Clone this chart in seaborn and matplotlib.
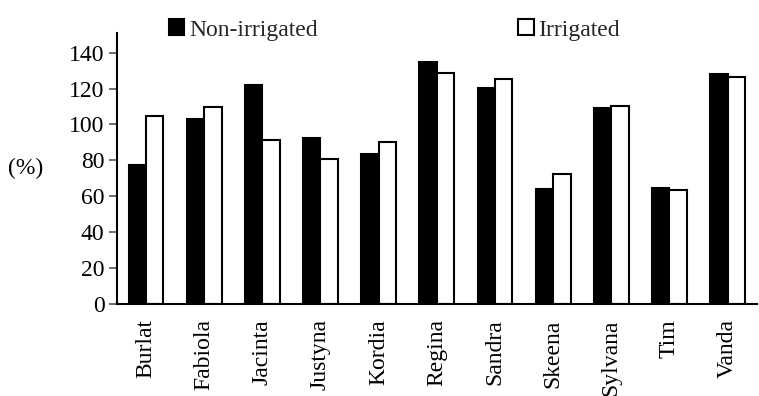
import matplotlib
matplotlib.use("Agg")
import matplotlib.pyplot as plt
import seaborn as sns
import pandas as pd

cultivars = ["Burlat", "Fabiola", "Jacinta", "Justyna", "Kordia", "Regina",
             "Sandra", "Skeena", "Sylvana", "Tim", "Vanda"]
non_irrigated = [77.6, 102.8, 121.8, 92.7, 83.8, 134.6, 120.5, 64.1, 109.3, 64.6, 128.3]
irrigated = [105.0, 109.7, 91.2, 80.6, 90.1, 128.7, 125.1, 72.3, 110.3, 63.3, 126.3]
series = ["Non-irrigated", "Irrigated"]
yticks = [0, 20, 40, 60, 80, 100, 120, 140]

df = pd.DataFrame({
    "cultivar": cultivars * 2,
    "value": non_irrigated + irrigated,
    "treatment": [series[0]] * len(cultivars) + [series[1]] * len(cultivars),
})

sns.set_theme(style="white")
plt.rcParams["font.family"] = ["Liberation Serif", "DejaVu Serif"]

FS = 17
fig = plt.figure(figsize=(7.59, 3.96), dpi=100)
ax = fig.add_axes([0.154, 0.232, 0.843, 0.685])

sns.barplot(data=df, x="cultivar", y="value", hue="treatment",
            palette={"Non-irrigated": "black", "Irrigated": "white"},
            edgecolor="black", linewidth=1.5, width=0.6, ax=ax,
            errorbar=None, legend=True)

ax.set_xlim(-0.5, len(cultivars) - 0.5)
ax.set_ylim(0, 151)
ax.set_yticks(yticks)
ax.tick_params(axis="y", which="both", left=True, length=6, width=1.2,
               labelsize=FS, color="#555555", pad=3, labelcolor="black")
ax.tick_params(axis="x", bottom=False, labelsize=FS, rotation=90, pad=5, labelcolor="black")
ax.set_xlabel("")
ax.set_ylabel("(%)", rotation=0, fontsize=FS, color="black", va="center", ha="center")
ax.yaxis.set_label_coords(-0.142, 0.5)

for s in ["top", "right"]:
    ax.spines[s].set_visible(False)
for s in ["left", "bottom"]:
    ax.spines[s].set_visible(True)
    ax.spines[s].set_color("black")
    ax.spines[s].set_linewidth(1.5)

handles, labels = ax.get_legend_handles_labels()
ax.legend_.remove()
fig.legend(handles, labels, loc="upper left", bbox_to_anchor=(0.21, 0.975),
           ncol=2, frameon=False, fontsize=FS, handlelength=0.65, handleheight=0.65,
           handletextpad=0.2, columnspacing=8.5, borderaxespad=0)

fig.savefig("out.png", dpi=100)
